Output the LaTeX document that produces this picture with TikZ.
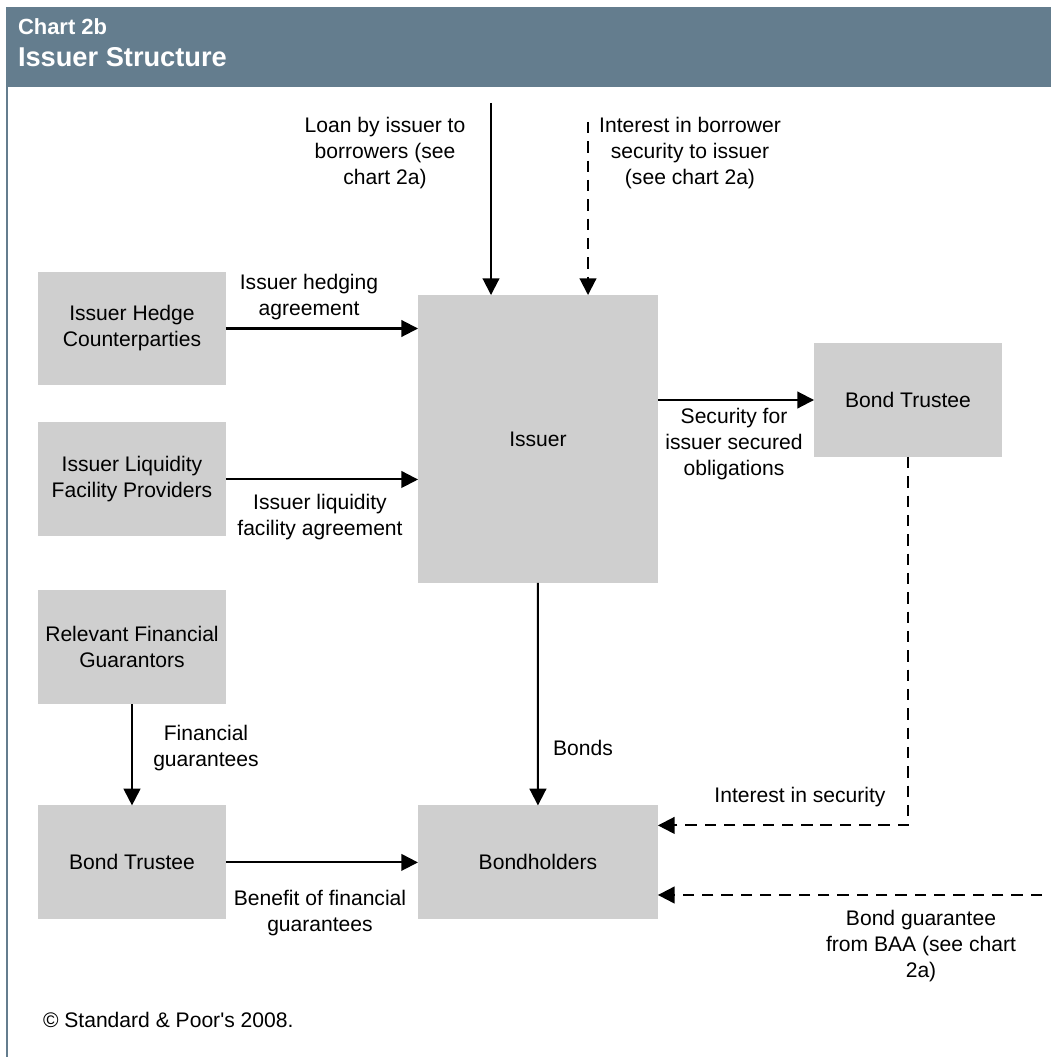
\documentclass[tikz,border=0pt]{standalone}
\usepackage{fontspec}
\setmainfont{Liberation Sans}
\usetikzlibrary{positioning,arrows.meta}
\definecolor{headblue}{HTML}{647D8E}
\definecolor{boxgray}{HTML}{CFCFCF}

\begin{document}
\begin{tikzpicture}[
		x=0.02cm, y=-0.02cm,
		every node/.style = {
			font=\fontsize{12}{14.8}\selectfont,
			inner sep=0pt, outer sep=0pt
		},
		box/.style = {
			fill=boxgray, align=center,
			minimum width=3.76cm,
			minimum height=2.28cm
		},
		lbl/.style = {align=center},
		flow/.style = {-{Triangle[length=9.5pt,width=9.5pt]}, line width=1.15pt},
		dflow/.style = {flow, dash pattern=on 6.5pt off 4.5pt}
		]
		\useasboundingbox (0,0) rectangle (1051,1057);
		% header band
		\fill[headblue] (6,7) rectangle (1051,87);
		\draw[headblue, line width=1.2pt] (7,87) -- (7,1057);
		\node[anchor=base west, text=white, font=\bfseries\fontsize{12.5}{15}\selectfont] (charttitle) at (18,35) {Chart 2b};
		\node[anchor=base west, text=white, font=\bfseries\fontsize{15.5}{18}\selectfont] (charthead) at (18,67) {Issuer Structure};

		% parties
		\node[box] (hedge) at (132,328.5) {Issuer Hedge\\Counterparties};
		\node[box, below=0.74cm of hedge] (liq) {Issuer Liquidity\\Facility Providers};
		\node[box, below=1.08cm of liq] (guar) {Relevant Financial\\Guarantors};
		\node[box, below=2.02cm of guar] (trustL) {Bond Trustee};
		\node[box, minimum width=4.8cm, right=3.84cm of trustL] (bondh) {Bondholders};
		\node[box, minimum width=4.8cm, minimum height=5.76cm] (issuer) at (538,439) {Issuer};
		\node[box] (trustR) at (908,400) {Bond Trustee};

		% free ends
		\coordinate (loanin) at (491,103);
		\coordinate (intin) at (588,122);
		\coordinate (baa) at (1042,895);

		% flows
		\draw[flow] (loanin) -- (loanin |- issuer.north);
		\draw[dflow] (intin) -- (intin |- issuer.north);
		\draw[flow] (hedge) -- (hedge -| issuer.west);
		\draw[flow] (liq) -- (liq -| issuer.west);
		\draw[flow] (issuer.east |- trustR) -- (trustR);
		\draw[flow] (issuer) -- (bondh);
		\draw[flow] (guar) -- (trustL);
		\draw[flow] (trustL) -- (bondh);
		\draw[dflow] (trustR.south) |- ([yshift=0.74cm]bondh.east);
		\draw[dflow] (baa) -- (baa -| bondh.east);

		% labels
		\node[lbl] (loanlbl) at (385,153) {Loan by issuer to\\borrowers (see\\chart 2a)};
		\node[lbl] (intlbl) at (690,153) {Interest in borrower\\security to issuer\\(see chart 2a)};
		\node[lbl] (hedgelbl) at (309,297) {Issuer hedging\\agreement};
		\node[lbl] (liqlbl) at (320,517) {Issuer liquidity\\facility agreement};
		\node[lbl] (seclbl) at (734,444) {Security for\\issuer secured\\obligations};
		\node[lbl] (bondslbl) at (583,748) {Bonds};
		\node[lbl] (fglbl) at (206,748) {Financial\\guarantees};
		\node[lbl] (benlbl) at (320,913) {Benefit of financial\\guarantees};
		\node[lbl] (intseclbl) at (800,797) {Interest in security};
		\node[lbl] (baalbl) at (921,946) {Bond guarantee\\from BAA (see chart\\2a)};

		\node[anchor=base west] (copy) at (43,1027) {© Standard \& Poor\textquotesingle s 2008.};
	\end{tikzpicture}
\end{document}
